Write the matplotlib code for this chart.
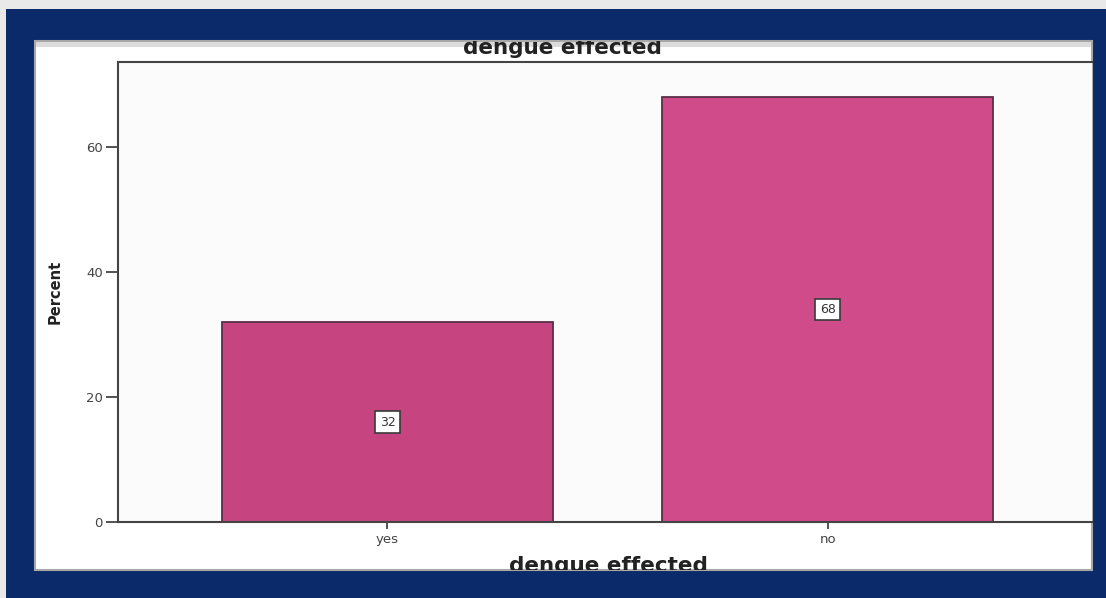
import matplotlib.pyplot as plt
from matplotlib.patches import Rectangle

# percent of respondents by dengue status
categories = ["yes", "no"]
percent = [32, 68]
yticks = [0, 20, 40, 60]
bar_colors = ["#c6447f", "#cf4b89"]

W, H = 1106, 598
fig = plt.figure(figsize=(W / 100, H / 100), dpi=100)
fig.patch.set_facecolor("#e9e9e9")


def box(x0, y0, x1, y1, **kw):
    # rectangle in pixel coords, measured from the top-left corner
    r = Rectangle((x0 / W, 1 - y1 / H), (x1 - x0) / W, (y1 - y0) / H,
                  transform=fig.transFigure, **kw)
    fig.add_artist(r)
    return r


def pt(x, y):
    return x / W, 1 - y / H


# navy frame and white chart panel behind the axes
box(6, 9, W, H, facecolor="#0b2a69", edgecolor="none", zorder=-3)
panel = box(35, 41, 1092, 570, facecolor="white", edgecolor="#a8a8a8",
            linewidth=1.5, zorder=-2)
box(36, 42, 1091, 47, facecolor="#dcdcdc", edgecolor="none", zorder=-1)

ax = fig.add_axes([118 / W, 1 - 522 / H, (1092 - 118) / W, (522 - 62) / H])
ax.set_facecolor("#fbfbfb")

x = range(len(categories))
bars = ax.bar(x, percent, width=0.752, color=bar_colors,
              edgecolor="#5a3048", linewidth=1.3, zorder=2)

for i, v in enumerate(percent):
    ax.text(i, v / 2, str(v), ha="center", va="center", fontsize=9,
            color="#333333", zorder=3,
            bbox=dict(boxstyle="square,pad=0.35", fc="white", ec="#3a3a3a", lw=1.2))

ax.set_xlim(-0.612, 1.6)
ax.set_ylim(0, 73.6)
ax.set_xticks(list(x))
ax.set_xticklabels(categories)
ax.set_yticks(yticks)

for side in ["left", "bottom", "top"]:
    ax.spines[side].set_color("#444444")
    ax.spines[side].set_linewidth(1.5)
ax.spines["right"].set_visible(False)

ax.tick_params(axis="y", length=9, width=1.3, color="#444444",
               labelsize=9.5, labelcolor="#444444", pad=2)
ax.tick_params(axis="x", length=5, width=1.3, color="#444444",
               labelsize=9.5, labelcolor="#444444", pad=3)

# titles sit on the panel edges and get cut by it
title = fig.text(*pt(562, 54), "dengue effected", ha="center", va="baseline",
                 fontsize=15.5, fontweight="bold", color="#222222", zorder=4)
xlab = fig.text(*pt(608, 572), "dengue effected", ha="center", va="baseline",
                fontsize=15.5, fontweight="bold", color="#222222", zorder=4)
for t in (title, xlab):
    t.set_clip_path(panel)

fig.text(*pt(55, 292), "Percent", rotation=90, ha="center", va="center",
         fontsize=10.5, fontweight="bold", color="#222222")

fig.savefig("out.png", dpi=100, facecolor=fig.get_facecolor())
